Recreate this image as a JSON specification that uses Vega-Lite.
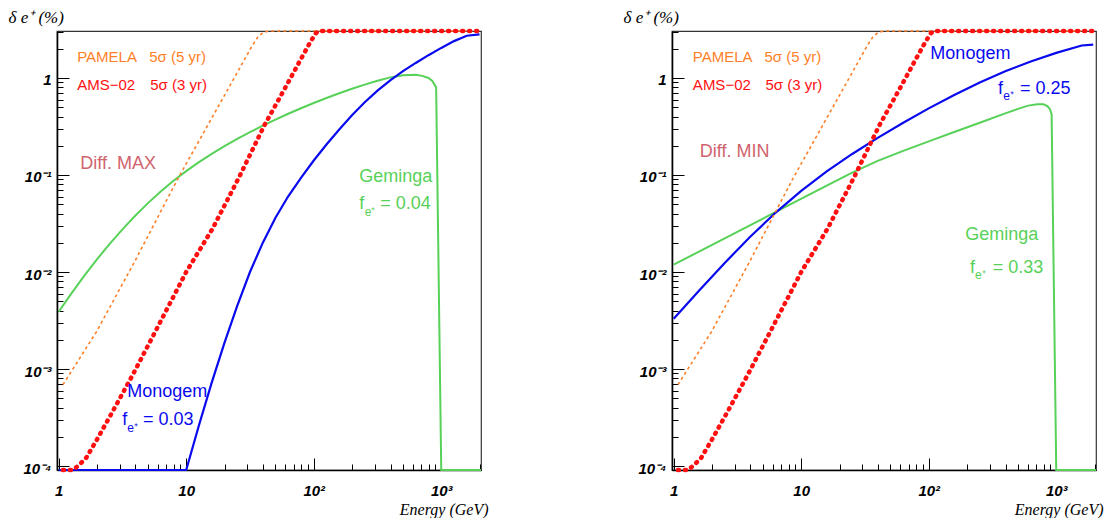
{
  "$schema": "https://vega.github.io/schema/vega-lite/v6.json",
  "background": "white",
  "padding": {"left": 7, "top": 7, "right": 0, "bottom": 0},
  "bounds": "flush",
  "spacing": 191,
  "config": {
    "view": {"stroke": "#333", "strokeWidth": 1.2},
    "axis": {"domainColor": "black", "domainWidth": 1.6, "tickColor": "black", "tickWidth": 1, "labelFont": "Liberation Sans", "labelFontSize": 15, "labelFontStyle": "italic", "labelFontWeight": "bold", "labelColor": "black", "grid": false, "labelOverlap": false, "labelFlush": false, "labelBound": false, "titleFont": "Liberation Serif", "titleFontStyle": "italic", "titleFontWeight": "normal", "titleColor": "black"},
    "text": {"font": "Liberation Sans", "align": "left", "baseline": "alphabetic"}
  },
  "datasets": {
    "curvesL": [
      {"who": "Geminga", "x": 1.0, "y": 0.00389}, {"who": "Geminga", "x": 1.259, "y": 0.00603}, {"who": "Geminga", "x": 1.585, "y": 0.00912}, {"who": "Geminga", "x": 1.995, "y": 0.0135}, {"who": "Geminga", "x": 2.512, "y": 0.0195}, {"who": "Geminga", "x": 3.162, "y": 0.0275}, {"who": "Geminga", "x": 3.981, "y": 0.038}, {"who": "Geminga", "x": 5.012, "y": 0.0513}, {"who": "Geminga", "x": 6.31, "y": 0.0676}, {"who": "Geminga", "x": 7.943, "y": 0.0871}, {"who": "Geminga", "x": 10, "y": 0.1096}, {"who": "Geminga", "x": 12.59, "y": 0.1355}, {"who": "Geminga", "x": 15.85, "y": 0.1648}, {"who": "Geminga", "x": 19.95, "y": 0.1982}, {"who": "Geminga", "x": 25.12, "y": 0.2355}, {"who": "Geminga", "x": 31.62, "y": 0.2767}, {"who": "Geminga", "x": 39.81, "y": 0.3221}, {"who": "Geminga", "x": 50.12, "y": 0.3724}, {"who": "Geminga", "x": 63.1, "y": 0.4276}, {"who": "Geminga", "x": 79.43, "y": 0.4875}, {"who": "Geminga", "x": 100, "y": 0.552}, {"who": "Geminga", "x": 125.9, "y": 0.622}, {"who": "Geminga", "x": 158.5, "y": 0.697}, {"who": "Geminga", "x": 199.5, "y": 0.774}, {"who": "Geminga", "x": 251.2, "y": 0.855}, {"who": "Geminga", "x": 316.2, "y": 0.938}, {"who": "Geminga", "x": 398.1, "y": 1.014}, {"who": "Geminga", "x": 501.2, "y": 1.067}, {"who": "Geminga", "x": 631, "y": 1.081}, {"who": "Geminga", "x": 707.9, "y": 1.052}, {"who": "Geminga", "x": 794.3, "y": 1.0}, {"who": "Geminga", "x": 851.1, "y": 0.933}, {"who": "Geminga", "x": 912, "y": 0.8}, {"who": "Geminga", "x": 1000, "y": 0.000091}, {"who": "Geminga", "x": 2050, "y": 0.000091},
      {"who": "Monogem", "x": 1.0, "y": 0.000091}, {"who": "Monogem", "x": 10, "y": 0.000091}, {"who": "Monogem", "x": 12.59, "y": 0.000263}, {"who": "Monogem", "x": 15.85, "y": 0.000724}, {"who": "Monogem", "x": 19.95, "y": 0.00186}, {"who": "Monogem", "x": 25.12, "y": 0.00447}, {"who": "Monogem", "x": 31.62, "y": 0.01}, {"who": "Monogem", "x": 39.81, "y": 0.01995}, {"who": "Monogem", "x": 50.12, "y": 0.0363}, {"who": "Monogem", "x": 63.1, "y": 0.0603}, {"who": "Monogem", "x": 79.43, "y": 0.0933}, {"who": "Monogem", "x": 100, "y": 0.141}, {"who": "Monogem", "x": 125.9, "y": 0.2065}, {"who": "Monogem", "x": 158.5, "y": 0.295}, {"who": "Monogem", "x": 199.5, "y": 0.412}, {"who": "Monogem", "x": 251.2, "y": 0.562}, {"who": "Monogem", "x": 316.2, "y": 0.741}, {"who": "Monogem", "x": 398.1, "y": 0.944}, {"who": "Monogem", "x": 501.2, "y": 1.175}, {"who": "Monogem", "x": 631, "y": 1.429}, {"who": "Monogem", "x": 794.3, "y": 1.718}, {"who": "Monogem", "x": 1000, "y": 2.042}, {"who": "Monogem", "x": 1259, "y": 2.399}, {"who": "Monogem", "x": 1585, "y": 2.723}, {"who": "Monogem", "x": 1995, "y": 2.818},
      {"who": "PAMELA", "x": 1.08, "y": 0.00069}, {"who": "PAMELA", "x": 1.97, "y": 0.0024}, {"who": "PAMELA", "x": 3.93, "y": 0.0127}, {"who": "PAMELA", "x": 8.6, "y": 0.0916}, {"who": "PAMELA", "x": 33, "y": 2.16}, {"who": "PAMELA", "x": 36.5, "y": 2.65}, {"who": "PAMELA", "x": 40, "y": 2.95}, {"who": "PAMELA", "x": 45, "y": 3.05}, {"who": "PAMELA", "x": 2050, "y": 3.05},
      {"who": "AMS-02", "x": 1.08, "y": 0.000091}, {"who": "AMS-02", "x": 1.3, "y": 0.000091}, {"who": "AMS-02", "x": 1.45, "y": 0.000103}, {"who": "AMS-02", "x": 1.64, "y": 0.000121}, {"who": "AMS-02", "x": 2.03, "y": 0.000195}, {"who": "AMS-02", "x": 2.68, "y": 0.000375}, {"who": "AMS-02", "x": 3.77, "y": 0.00085}, {"who": "AMS-02", "x": 5.6, "y": 0.0023}, {"who": "AMS-02", "x": 10, "y": 0.01}, {"who": "AMS-02", "x": 16.1, "y": 0.028}, {"who": "AMS-02", "x": 26, "y": 0.095}, {"who": "AMS-02", "x": 41, "y": 0.325}, {"who": "AMS-02", "x": 60, "y": 0.8}, {"who": "AMS-02", "x": 80, "y": 1.6}, {"who": "AMS-02", "x": 95, "y": 2.4}, {"who": "AMS-02", "x": 104, "y": 2.9}, {"who": "AMS-02", "x": 110, "y": 3.05}, {"who": "AMS-02", "x": 2050, "y": 3.05}
    ],
    "curvesR": [
      {"who": "Geminga", "x": 1.0, "y": 0.0119}, {"who": "Geminga", "x": 2.512, "y": 0.02223}, {"who": "Geminga", "x": 6.31, "y": 0.0416}, {"who": "Geminga", "x": 15.85, "y": 0.0778}, {"who": "Geminga", "x": 25.12, "y": 0.1059}, {"who": "Geminga", "x": 39.81, "y": 0.1396}, {"who": "Geminga", "x": 63.1, "y": 0.1774}, {"who": "Geminga", "x": 100, "y": 0.2223}, {"who": "Geminga", "x": 158.5, "y": 0.2773}, {"who": "Geminga", "x": 251.2, "y": 0.346}, {"who": "Geminga", "x": 398.1, "y": 0.4315}, {"who": "Geminga", "x": 501.2, "y": 0.4808}, {"who": "Geminga", "x": 602.6, "y": 0.5188}, {"who": "Geminga", "x": 707.9, "y": 0.537}, {"who": "Geminga", "x": 794.3, "y": 0.535}, {"who": "Geminga", "x": 851.1, "y": 0.513}, {"who": "Geminga", "x": 891.3, "y": 0.479}, {"who": "Geminga", "x": 920, "y": 0.42}, {"who": "Geminga", "x": 1000, "y": 0.000091}, {"who": "Geminga", "x": 2050, "y": 0.000091},
      {"who": "Monogem", "x": 1.0, "y": 0.0033}, {"who": "Monogem", "x": 1.585, "y": 0.00644}, {"who": "Monogem", "x": 2.512, "y": 0.01239}, {"who": "Monogem", "x": 3.981, "y": 0.02307}, {"who": "Monogem", "x": 6.31, "y": 0.041}, {"who": "Monogem", "x": 10, "y": 0.0687}, {"who": "Monogem", "x": 15.85, "y": 0.1089}, {"who": "Monogem", "x": 25.12, "y": 0.1648}, {"who": "Monogem", "x": 39.81, "y": 0.2415}, {"who": "Monogem", "x": 63.1, "y": 0.346}, {"who": "Monogem", "x": 100, "y": 0.486}, {"who": "Monogem", "x": 158.5, "y": 0.668}, {"who": "Monogem", "x": 251.2, "y": 0.897}, {"who": "Monogem", "x": 398.1, "y": 1.172}, {"who": "Monogem", "x": 631, "y": 1.476}, {"who": "Monogem", "x": 1000, "y": 1.816}, {"who": "Monogem", "x": 1585, "y": 2.163}, {"who": "Monogem", "x": 1950, "y": 2.208},
      {"who": "PAMELA", "x": 1.08, "y": 0.00069}, {"who": "PAMELA", "x": 1.97, "y": 0.0024}, {"who": "PAMELA", "x": 3.93, "y": 0.0127}, {"who": "PAMELA", "x": 8.6, "y": 0.0916}, {"who": "PAMELA", "x": 33, "y": 2.16}, {"who": "PAMELA", "x": 36.5, "y": 2.65}, {"who": "PAMELA", "x": 40, "y": 2.95}, {"who": "PAMELA", "x": 45, "y": 3.05}, {"who": "PAMELA", "x": 2050, "y": 3.05},
      {"who": "AMS-02", "x": 1.08, "y": 0.000091}, {"who": "AMS-02", "x": 1.3, "y": 0.000091}, {"who": "AMS-02", "x": 1.45, "y": 0.000103}, {"who": "AMS-02", "x": 1.64, "y": 0.000121}, {"who": "AMS-02", "x": 2.03, "y": 0.000195}, {"who": "AMS-02", "x": 2.68, "y": 0.000375}, {"who": "AMS-02", "x": 3.77, "y": 0.00085}, {"who": "AMS-02", "x": 5.6, "y": 0.0023}, {"who": "AMS-02", "x": 10, "y": 0.01}, {"who": "AMS-02", "x": 16.1, "y": 0.028}, {"who": "AMS-02", "x": 26, "y": 0.095}, {"who": "AMS-02", "x": 41, "y": 0.325}, {"who": "AMS-02", "x": 60, "y": 0.8}, {"who": "AMS-02", "x": 80, "y": 1.6}, {"who": "AMS-02", "x": 95, "y": 2.4}, {"who": "AMS-02", "x": 104, "y": 2.9}, {"who": "AMS-02", "x": 110, "y": 3.05}, {"who": "AMS-02", "x": 2050, "y": 3.05}
    ],
    "labelsL": [
      {"x": 1.397, "y": 1.462, "text": "PAMELA", "who": "PAMELA", "role": "leg"},
      {"x": 5.13, "y": 1.462, "text": "5σ (5 yr)", "who": "PAMELA", "role": "leg"},
      {"x": 1.397, "y": 0.752, "text": "AMS−02", "who": "AMS-02", "role": "leg"},
      {"x": 5.22, "y": 0.752, "text": "5σ (3 yr)", "who": "AMS-02", "role": "leg"},
      {"x": 1.475, "y": 0.1153, "text": "Diff. MAX", "who": "Diff", "role": "tag"},
      {"x": 227, "y": 0.0847, "text": "Geminga", "who": "Geminga", "role": "src"},
      {"x": 227, "y": 0.0446, "text": "f", "who": "Geminga", "role": "src"},
      {"x": 251, "y": 0.0378, "text": "e⁺", "who": "Geminga", "role": "sub"},
      {"x": 332, "y": 0.0446, "text": "= 0.04", "who": "Geminga", "role": "src"},
      {"x": 3.45, "y": 0.000514, "text": "Monogem", "who": "Monogem", "role": "src"},
      {"x": 3.15, "y": 0.000265, "text": "f", "who": "Monogem", "role": "src"},
      {"x": 3.45, "y": 0.000224, "text": "e⁺", "who": "Monogem", "role": "sub"},
      {"x": 4.58, "y": 0.000265, "text": "= 0.03", "who": "Monogem", "role": "src"}
    ],
    "labelsR": [
      {"x": 1.414, "y": 1.462, "text": "PAMELA", "who": "PAMELA", "role": "leg"},
      {"x": 5.15, "y": 1.462, "text": "5σ (5 yr)", "who": "PAMELA", "role": "leg"},
      {"x": 1.414, "y": 0.752, "text": "AMS−02", "who": "AMS-02", "role": "leg"},
      {"x": 5.24, "y": 0.752, "text": "5σ (3 yr)", "who": "AMS-02", "role": "leg"},
      {"x": 1.6, "y": 0.153, "text": "Diff. MIN", "who": "Diff", "role": "tag"},
      {"x": 103, "y": 1.57, "text": "Monogem", "who": "Monogem", "role": "src"},
      {"x": 349, "y": 0.684, "text": "f", "who": "Monogem", "role": "src"},
      {"x": 384, "y": 0.589, "text": "e⁺", "who": "Monogem", "role": "sub"},
      {"x": 519, "y": 0.684, "text": "= 0.25", "who": "Monogem", "role": "src"},
      {"x": 193, "y": 0.0214, "text": "Geminga", "who": "Geminga", "role": "src"},
      {"x": 211, "y": 0.00977, "text": "f", "who": "Geminga", "role": "src"},
      {"x": 231, "y": 0.0084, "text": "e⁺", "who": "Geminga", "role": "sub"},
      {"x": 318, "y": 0.00977, "text": "= 0.33", "who": "Geminga", "role": "src"}
    ]
  },
  "hconcat": [
    {
      "width": 424, "height": 439,
      "encoding": {
        "x": {"field": "x", "type": "quantitative", "scale": {"type": "log", "domain": [0.97, 2050], "nice": false}, "axis": {"values": [1,2,3,4,5,6,7,8,9,10,20,30,40,50,60,70,80,90,100,200,300,400,500,600,700,800,900,1000,2000], "labelExpr": "datum.value == 1 ? '1' : datum.value == 10 ? '10' : datum.value == 100 ? '10²' : datum.value == 1000 ? '10³' : ''", "tickSize": {"condition": {"test": "datum.value == 1 || datum.value == 10 || datum.value == 100 || datum.value == 1000", "value": -12}, "value": -6}, "labelPadding": 25, "title": "Energy (GeV)", "titleFontSize": 16, "titleAnchor": "end", "titleAlign": "right", "titleX": 431, "titleY": 44, "titleBaseline": "alphabetic"}},
        "y": {"field": "y", "type": "quantitative", "scale": {"type": "log", "domain": [0.000091, 3.05], "nice": false}, "axis": {"values": [0.0001,0.0002,0.0003,0.0004,0.0005,0.0006,0.0007,0.0008,0.0009,0.001,0.002,0.003,0.004,0.005,0.006,0.007,0.008,0.009,0.01,0.02,0.03,0.04,0.05,0.06,0.07,0.08,0.09,0.1,0.2,0.3,0.4,0.5,0.6,0.7,0.8,0.9,1,2,3], "labelExpr": "datum.value == 1 ? '1' : datum.value == 0.1 ? '10⁻¹' : datum.value == 0.01 ? '10⁻²' : datum.value == 0.001 ? '10⁻³' : datum.value == 0.0001 ? '10⁻⁴' : ''", "tickSize": {"condition": {"test": "datum.value == 1 || datum.value == 0.1 || datum.value == 0.01 || datum.value == 0.001 || datum.value == 0.0001", "value": -12}, "value": -6}, "labelPadding": 18, "labelOffset": 2, "title": "δ e⁺ (%)", "titleFontSize": 17, "titleAngle": 0, "titleAlign": "left", "titleBaseline": "alphabetic", "titleX": -49, "titleY": -9}},
        "color": {"field": "who", "type": "nominal", "legend": null, "scale": {"domain": ["Geminga", "Monogem", "PAMELA", "AMS-02", "Diff"], "range": ["#58d158", "#0a0aee", "#ff7f27", "#ff1010", "#d0646e"]}}
      },
      "layer": [
        {"data": {"name": "curvesL"}, "transform": [{"filter": "datum.who == 'Geminga'"}], "mark": {"type": "line", "strokeWidth": 2}},
        {"data": {"name": "curvesL"}, "transform": [{"filter": "datum.who == 'Monogem'"}], "mark": {"type": "line", "strokeWidth": 2.2}},
        {"data": {"name": "curvesL"}, "transform": [{"filter": "datum.who == 'PAMELA'"}], "mark": {"type": "line", "strokeWidth": 1.6, "strokeDash": [3, 3]}},
        {"data": {"name": "curvesL"}, "transform": [{"filter": "datum.who == 'AMS-02'"}], "mark": {"type": "line", "strokeWidth": 4.5, "strokeDash": [1, 6], "strokeCap": "round"}},
        {"data": {"name": "labelsL"}, "transform": [{"filter": "datum.role == 'leg'"}], "mark": {"type": "text", "fontSize": 15}, "encoding": {"text": {"field": "text"}}},
        {"data": {"name": "labelsL"}, "transform": [{"filter": "datum.role == 'tag'"}], "mark": {"type": "text", "fontSize": 18}, "encoding": {"text": {"field": "text"}}},
        {"data": {"name": "labelsL"}, "transform": [{"filter": "datum.role == 'src'"}], "mark": {"type": "text", "fontSize": 18}, "encoding": {"text": {"field": "text"}}},
        {"data": {"name": "labelsL"}, "transform": [{"filter": "datum.role == 'sub'"}], "mark": {"type": "text", "fontSize": 12}, "encoding": {"text": {"field": "text"}}}
      ]
    },
    {
      "width": 424, "height": 439,
      "encoding": {
        "x": {"field": "x", "type": "quantitative", "scale": {"type": "log", "domain": [0.97, 2050], "nice": false}, "axis": {"values": [1,2,3,4,5,6,7,8,9,10,20,30,40,50,60,70,80,90,100,200,300,400,500,600,700,800,900,1000,2000], "labelExpr": "datum.value == 1 ? '1' : datum.value == 10 ? '10' : datum.value == 100 ? '10²' : datum.value == 1000 ? '10³' : ''", "tickSize": {"condition": {"test": "datum.value == 1 || datum.value == 10 || datum.value == 100 || datum.value == 1000", "value": -12}, "value": -6}, "labelPadding": 25, "title": "Energy (GeV)", "titleFontSize": 16, "titleAnchor": "end", "titleAlign": "right", "titleX": 431, "titleY": 44, "titleBaseline": "alphabetic"}},
        "y": {"field": "y", "type": "quantitative", "scale": {"type": "log", "domain": [0.000091, 3.05], "nice": false}, "axis": {"values": [0.0001,0.0002,0.0003,0.0004,0.0005,0.0006,0.0007,0.0008,0.0009,0.001,0.002,0.003,0.004,0.005,0.006,0.007,0.008,0.009,0.01,0.02,0.03,0.04,0.05,0.06,0.07,0.08,0.09,0.1,0.2,0.3,0.4,0.5,0.6,0.7,0.8,0.9,1,2,3], "labelExpr": "datum.value == 1 ? '1' : datum.value == 0.1 ? '10⁻¹' : datum.value == 0.01 ? '10⁻²' : datum.value == 0.001 ? '10⁻³' : datum.value == 0.0001 ? '10⁻⁴' : ''", "tickSize": {"condition": {"test": "datum.value == 1 || datum.value == 0.1 || datum.value == 0.01 || datum.value == 0.001 || datum.value == 0.0001", "value": -12}, "value": -6}, "labelPadding": 18, "labelOffset": 2, "title": "δ e⁺ (%)", "titleFontSize": 17, "titleAngle": 0, "titleAlign": "left", "titleBaseline": "alphabetic", "titleX": -49, "titleY": -9}},
        "color": {"field": "who", "type": "nominal", "legend": null, "scale": {"domain": ["Geminga", "Monogem", "PAMELA", "AMS-02", "Diff"], "range": ["#58d158", "#0a0aee", "#ff7f27", "#ff1010", "#d0646e"]}}
      },
      "layer": [
        {"data": {"name": "curvesR"}, "transform": [{"filter": "datum.who == 'Geminga'"}], "mark": {"type": "line", "strokeWidth": 2}},
        {"data": {"name": "curvesR"}, "transform": [{"filter": "datum.who == 'Monogem'"}], "mark": {"type": "line", "strokeWidth": 2.2}},
        {"data": {"name": "curvesR"}, "transform": [{"filter": "datum.who == 'PAMELA'"}], "mark": {"type": "line", "strokeWidth": 1.6, "strokeDash": [3, 3]}},
        {"data": {"name": "curvesR"}, "transform": [{"filter": "datum.who == 'AMS-02'"}], "mark": {"type": "line", "strokeWidth": 4.5, "strokeDash": [1, 6], "strokeCap": "round"}},
        {"data": {"name": "labelsR"}, "transform": [{"filter": "datum.role == 'leg'"}], "mark": {"type": "text", "fontSize": 15}, "encoding": {"text": {"field": "text"}}},
        {"data": {"name": "labelsR"}, "transform": [{"filter": "datum.role == 'tag'"}], "mark": {"type": "text", "fontSize": 18}, "encoding": {"text": {"field": "text"}}},
        {"data": {"name": "labelsR"}, "transform": [{"filter": "datum.role == 'src'"}], "mark": {"type": "text", "fontSize": 18}, "encoding": {"text": {"field": "text"}}},
        {"data": {"name": "labelsR"}, "transform": [{"filter": "datum.role == 'sub'"}], "mark": {"type": "text", "fontSize": 12}, "encoding": {"text": {"field": "text"}}}
      ]
    }
  ]
}
